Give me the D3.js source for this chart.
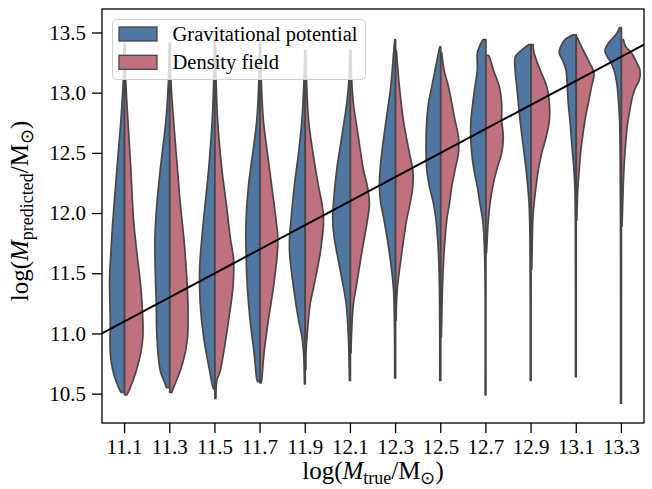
<!DOCTYPE html>
<html>
<head>
<meta charset="utf-8">
<script src="https://cdn.jsdelivr.net/npm/d3@7"></script>
<style>
  body { margin: 0; background: #fff; }
  text { font-family: "Liberation Serif", "Times New Roman", serif; fill: #000; }
</style>
</head>
<body>
<div id="chart"></div>
<script>
// categories: log(M_true) bins
const xLabels = ['11.1', '11.3', '11.5', '11.7', '11.9', '12.1', '12.3', '12.5', '12.7', '12.9', '13.1', '13.3'];
const yTicks = [10.5, 11.0, 11.5, 12.0, 12.5, 13.0, 13.5];
const seriesNames = ['Gravitational potential', 'Density field'];
const seriesColors = ['#4f77a1', '#c0717e'];

// violin half profiles, [log M_predicted, density]
const gravProfiles = [
  [[13.41,0.5],[13.1,1.3],[12.77,3.7],[12.36,7.7],[11.94,11.7],[11.67,13.7],[11.44,15],[11.11,14.3],[10.84,14.3],[10.69,11.7],[10.55,6],[10.51,3.5]],
  [[13.41,0.5],[13.1,1.3],[12.77,3.8],[12.36,9.5],[12.08,12.8],[11.8,14.8],[11.53,14.5],[11.25,13.5],[10.97,12.8],[10.69,9.5],[10.58,4.5],[10.55,3.5]],
  [[13.44,0.5],[13.1,1.2],[12.77,2.7],[12.36,6.3],[12.08,9.7],[11.8,13],[11.53,15.3],[11.25,14.7],[10.97,11.3],[10.69,5.3],[10.55,2],[10.54,1.5]],
  [[13.41,0.5],[13.1,1.2],[12.77,3.3],[12.5,7.3],[12.22,11.7],[11.94,14],[11.67,14],[11.38,12.7],[11.11,10],[10.84,6],[10.62,3.3],[10.6,2.5]],
  [[13.35,0.5],[13.1,1.3],[12.77,3.3],[12.5,6.7],[12.22,11],[11.94,14.3],[11.8,15.7],[11.67,15.7],[11.38,11.7],[11.11,6.7],[10.97,3.3],[10.84,1.7],[10.58,0.8]],
  [[13.35,0.5],[13.1,1.5],[12.91,3.7],[12.63,8.7],[12.36,13.7],[12.08,17],[11.94,17.7],[11.8,16.3],[11.53,10.3],[11.25,4.3],[10.97,2],[10.61,1]],
  [[13.44,0.8],[13.33,2],[13.05,4.8],[12.77,9.5],[12.5,13.8],[12.36,15.5],[12.22,16.2],[12.08,14.8],[11.94,11.5],[11.67,6.2],[11.38,2.2],[11.11,1.2],[10.63,0.9]],
  [[13.38,1],[13.33,2.3],[13.05,9],[12.91,12.3],[12.77,14],[12.5,14.7],[12.36,14],[12.22,11.3],[12.08,7.3],[11.94,4.7],[11.67,2.3],[11.38,1.3],[10.61,1]],
  [[13.44,3],[13.38,6.6],[13.33,8.6],[13.19,8.6],[13.05,11],[12.91,13.2],[12.77,15],[12.63,15.2],[12.5,14.2],[12.36,12],[12.22,8.6],[12.08,6],[11.94,3.2],[11.67,1.3],[10.49,0.8]],
  [[13.4,2],[13.35,10],[13.3,15.7],[13.19,16],[13.05,14.3],[12.91,12.7],[12.77,11],[12.63,9],[12.5,7],[12.36,5],[12.22,3.3],[12.08,2],[11.8,1.1],[10.61,0.8]],
  [[13.48,3],[13.44,11.3],[13.38,15.7],[13.33,17],[13.27,13.7],[13.19,10.3],[13.05,9],[12.91,8],[12.77,6.3],[12.63,5],[12.5,3.7],[12.36,2.3],[12.22,1.4],[11.94,0.9],[10.64,0.8]],
  [[13.54,2],[13.49,4.8],[13.41,13.2],[13.35,16.5],[13.3,14.2],[13.24,9.8],[13.16,6.5],[13.05,4.2],[12.91,2.8],[12.77,1.8],[12.5,1.3],[11.94,0.9],[10.42,0.8]]
];

const densProfiles = [
  [[13.41,0.5],[13.1,1.2],[12.77,3.3],[12.36,6.3],[11.94,9],[11.67,12.3],[11.38,16.3],[11.11,18.3],[10.97,18.3],[10.84,16.3],[10.69,11.7],[10.55,5.7],[10.49,2.3]],
  [[13.41,0.5],[13.1,1.2],[12.77,3.8],[12.36,7.8],[12.08,10.5],[11.8,14],[11.53,16.5],[11.25,18.2],[10.97,17.8],[10.84,15.5],[10.69,10.5],[10.55,3.8],[10.51,2]],
  [[13.44,0.5],[13.1,1.2],[12.77,2.7],[12.36,7],[12.08,11.3],[11.8,15.3],[11.61,18.7],[11.38,18],[11.11,13.7],[10.84,8.7],[10.69,5.3],[10.61,2],[10.46,1]],
  [[13.41,0.5],[13.1,1.2],[12.77,3.3],[12.5,7.3],[12.22,11.7],[11.94,16],[11.8,17.7],[11.67,17.3],[11.38,13.3],[11.11,8.3],[10.84,4],[10.62,1.7],[10.59,1]],
  [[13.35,0.5],[13.1,1.3],[12.77,3.3],[12.5,7.7],[12.22,13.3],[12.08,16.7],[11.94,18.3],[11.67,15],[11.38,8.3],[11.25,5],[10.97,1.7],[10.84,0.8],[10.7,0.6]],
  [[13.35,0.5],[13.1,1.3],[12.91,3],[12.63,8],[12.36,13],[12.22,17],[12.08,19],[11.94,17],[11.67,11.3],[11.38,5.7],[11.25,3],[10.97,1],[10.84,0.6]],
  [[13.35,0.8],[13.05,3.8],[12.77,7.8],[12.5,13.8],[12.36,17.2],[12.22,17.2],[12.08,14.5],[11.94,11],[11.67,6.2],[11.38,1.8],[11.25,0.9],[11.11,0.6]],
  [[13.33,1],[13.19,3.3],[13.05,7.7],[12.77,14.3],[12.63,17.7],[12.5,17.7],[12.36,14.3],[12.22,11],[12.08,8.7],[11.94,6],[11.67,3.3],[11.38,1.7],[11.11,1],[10.97,0.6]],
  [[13.31,2.5],[13.3,3.4],[13.19,7.4],[13.05,13.4],[12.91,15.8],[12.77,15.8],[12.63,17.4],[12.5,15.8],[12.36,10.8],[12.22,6.8],[12.08,4.1],[11.94,2.4],[11.8,1.4],[11.67,0.6]],
  [[13.4,2],[13.33,3],[13.19,9],[13.05,15.7],[12.91,18.3],[12.77,18.3],[12.63,15],[12.5,10.7],[12.36,7.3],[12.22,5],[12.08,3],[11.94,1.7],[11.67,1],[11.53,0.6]],
  [[13.46,1],[13.38,5.3],[13.27,12],[13.16,17.7],[13.05,15.3],[12.91,12],[12.77,8.7],[12.63,6.3],[12.5,4.3],[12.36,3],[12.22,1.7],[12.08,1],[11.94,0.6]],
  [[13.44,2],[13.38,4.5],[13.33,10.2],[13.24,15.8],[13.19,18.5],[13.1,17.8],[13.05,14.5],[12.97,11.2],[12.86,8.5],[12.72,5.8],[12.5,3.5],[12.36,2.5],[12.22,1.8],[12.05,1.2],[11.89,0.6]]
];

const width = 652;
const height = 489;
const margin = { top: 9, right: 8, bottom: 66, left: 102 };

const svg = d3.select('#chart')
    .append('svg')
    .attr('width', width)
    .attr('height', height);

const x = d3.scaleBand()
    .domain(xLabels)
    .range([margin.left, width - margin.right]);

const y = d3.scaleLinear()
    .domain([10.256, 13.695])
    .range([height - margin.bottom, margin.top]);

// density -> half width in px
const w = d3.scaleLinear()
    .domain([0, 22.6])
    .range([0, x.bandwidth() / 2]);

// straight value scale on x, for the one-to-one line
const xVal = d3.scaleLinear()
    .domain([+xLabels[0], +xLabels[xLabels.length - 1]])
    .range([x(xLabels[0]) + x.bandwidth() / 2, x(xLabels[xLabels.length - 1]) + x.bandwidth() / 2]);

const edge = d3.line().curve(d3.curveCatmullRom.alpha(0.5));

function halfViolin(profile, cx, side) {
    const pts = profile.map(([v, d]) => [cx + side * w(d), y(v)]);
    const top = y(profile[0][0]);
    const bottom = y(profile[profile.length - 1][0]);
    return edge(pts) + `L${cx},${bottom}L${cx},${top}Z`;
}

const plot = svg.append('g');

xLabels.forEach((lab, i) => {
    const cx = x(lab) + x.bandwidth() / 2;
    plot.append('path')
        .attr('d', halfViolin(gravProfiles[i], cx, -1))
        .attr('fill', seriesColors[0])
        .attr('stroke', '#474747')
        .attr('stroke-width', 1.7)
        .attr('stroke-linejoin', 'round');
    plot.append('path')
        .attr('d', halfViolin(densProfiles[i], cx, 1))
        .attr('fill', seriesColors[1])
        .attr('stroke', '#474747')
        .attr('stroke-width', 1.7)
        .attr('stroke-linejoin', 'round');
});

// one-to-one line across the axes
const [x0, x1] = x.range();
const lineVals = [xVal.invert(x0), xVal.invert(x1)];
svg.append('line')
    .attr('x1', x0)
    .attr('y1', y(lineVals[0]))
    .attr('x2', x1)
    .attr('y2', y(lineVals[1]))
    .attr('stroke', '#000')
    .attr('stroke-width', 2);

// axes
const xAxis = svg.append('g')
    .attr('transform', `translate(0,${height - margin.bottom})`)
    .call(d3.axisBottom(x).tickSize(10).tickPadding(6));
xAxis.selectAll('text').style('font-size', '21px').attr('font-family', null);

const yAxis = svg.append('g')
    .attr('transform', `translate(${margin.left},0)`)
    .call(d3.axisLeft(y).tickValues(yTicks).tickFormat(d3.format('.1f')).tickSize(10).tickPadding(6));
yAxis.selectAll('text').style('font-size', '21px').attr('font-family', null);

[xAxis, yAxis].forEach(a => {
    a.select('.domain').remove();
    a.selectAll('.tick line').attr('stroke', '#000').attr('stroke-width', 1.3);
});

svg.append('rect')
    .attr('x', margin.left)
    .attr('y', margin.top)
    .attr('width', width - margin.left - margin.right)
    .attr('height', height - margin.top - margin.bottom)
    .attr('fill', 'none')
    .attr('stroke', '#000')
    .attr('stroke-width', 1.3);

// axis labels
const xl = svg.append('text')
    .attr('x', (margin.left + width - margin.right) / 2)
    .attr('y', 479)
    .attr('text-anchor', 'middle')
    .style('font-size', '25px');
xl.append('tspan').text('log(');
xl.append('tspan').attr('font-style', 'italic').text('M');
xl.append('tspan').attr('dy', 5).style('font-size', '18px').text('true');
xl.append('tspan').attr('dy', -5).text('/M');
xl.append('tspan').attr('dy', 5).style('font-size', '18px').text('⊙');
xl.append('tspan').attr('dy', -5).text(')');

const yl = svg.append('text')
    .attr('transform', `translate(28,211) rotate(-90)`)
    .attr('text-anchor', 'middle')
    .style('font-size', '25px');
yl.append('tspan').text('log(');
yl.append('tspan').attr('font-style', 'italic').text('M');
yl.append('tspan').attr('dy', 5).style('font-size', '18px').text('predicted');
yl.append('tspan').attr('dy', -5).text('/M');
yl.append('tspan').attr('dy', 5).style('font-size', '18px').text('⊙');
yl.append('tspan').attr('dy', -5).text(')');

// legend
const legend = svg.append('g');
legend.append('rect')
    .attr('x', 112.5)
    .attr('y', 19.5)
    .attr('width', 253)
    .attr('height', 60)
    .attr('rx', 4)
    .attr('fill', '#fff')
    .attr('fill-opacity', 0.8)
    .attr('stroke', '#d0d0d0')
    .attr('stroke-width', 1);

seriesNames.forEach((name, i) => {
    const yy = 27 + i * 28.3;
    legend.append('rect')
        .attr('x', 119)
        .attr('y', yy)
        .attr('width', 38)
        .attr('height', 14)
        .attr('fill', seriesColors[i])
        .attr('stroke', '#474747')
        .attr('stroke-width', 1.3);
    legend.append('text')
        .attr('x', 172.5)
        .attr('y', yy + 14)
        .style('font-size', '20.5px')
        .text(name);
});
</script>
</body>
</html>
